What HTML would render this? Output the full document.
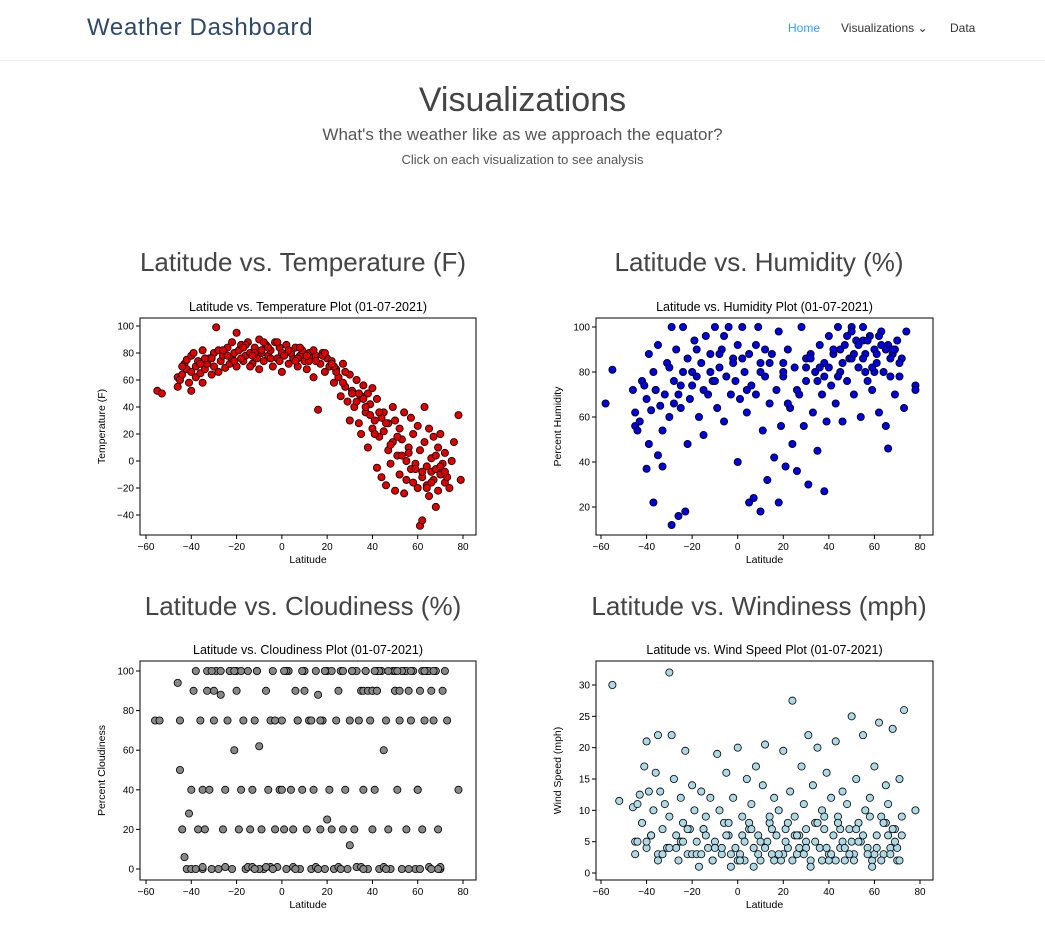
<!DOCTYPE html>
<html><head><meta charset="utf-8">
<style>
body{margin:0;width:1045px;height:927px;background:#fff;font-family:"Liberation Sans",sans-serif;overflow:hidden;position:relative}
.hdr{position:absolute;left:0;top:0;width:1045px;height:60px;border-bottom:1px solid #e8eef3}
.brand{position:absolute;left:87px;top:14px;font-size:24px;color:#2f4a68;letter-spacing:0.7px}
.nav{position:absolute;top:21px;font-size:12px;color:#333}
.h1{position:absolute;left:0;width:1045px;text-align:center;top:81px;font-size:34px;color:#444}
.sub{position:absolute;left:0;width:1045px;text-align:center;top:125px;font-size:17px;color:#555}
.sub2{position:absolute;left:0;width:1045px;text-align:center;top:152px;font-size:13px;color:#555}
.ct{position:absolute;font-size:26px;color:#444;text-align:center;width:460px}
svg{position:absolute;left:0;top:0}
</style></head><body>
<div class="hdr">
<div class="brand">Weather Dashboard</div>
<div class="nav" style="left:788px;color:#2ea3f2">Home</div>
<div class="nav" style="left:841px">Visualizations &#8964;</div>
<div class="nav" style="left:950px">Data</div>
</div>
<div class="h1">Visualizations</div>
<div class="sub">What's the weather like as we approach the equator?</div>
<div class="sub2">Click on each visualization to see analysis</div>
<div class="ct" style="left:73px;top:247px">Latitude vs. Temperature (F)</div>
<div class="ct" style="left:529px;top:247px">Latitude vs. Humidity (%)</div>
<div class="ct" style="left:73px;top:591px">Latitude vs. Cloudiness (%)</div>
<div class="ct" style="left:529px;top:591px">Latitude vs. Windiness (mph)</div>
<svg id="s" width="1045" height="927"></svg>
<script>
const xTicks=[-60,-40,-20,0,20,40,60,80];
const tempTicks=[100,80,60,40,20,0,-20,-40];
const humTicks=[100,80,60,40,20];
const cloudTicks=[100,80,60,40,20,0];
const windTicks=[30,25,20,15,10,5,0];
const tempLat=[-55,-53,-46,-46,-45,-44,-43,-42,-42,-41,-40,-40,-39,-38,-38,-37,-36,-35,-35,-34,-33,-32,-31,-30,-30,-29,-28,-27,-26,-25,-24,-23,-22,-22,-21,-20,-20,-19,-18,-17,-16,-15,-14,-13,-12,-11,-10,-10,-9,-8,-7,-6,-5,-4,-3,-2,-1,0,0,1,2,3,4,5,6,7,8,9,10,11,12,13,14,15,16,17,18,19,20,21,22,23,24,25,26,27,28,29,30,30,31,32,33,34,35,35,36,37,38,38,39,40,40,41,42,42,43,44,45,45,46,47,47,48,49,49,50,50,51,52,52,53,54,54,55,55,56,57,57,58,58,59,60,60,61,61,62,62,63,63,64,64,65,65,66,66,67,67,68,68,69,69,70,70,71,72,72,73,74,75,76,78,79,-28,-24,-16,-6,4,12,24,36,44,-34,-12,8,-2,18,
-36,-31,-26,-21,-17,-13,-9,-5,-1,3,7,11,15,19,23,27,31,33,37,39,41,43,46,48,51,53,56,59,62,64,66,68,70,72,-44,-40,-18,-14,-8,6,14,22,28,34];
const tempVal=[52,50,55,62,60,64,72,68,75,58,78,52,80,70,62,74,65,82,58,68,72,76,64,80,70,99,66,74,78,69,84,72,88,76,80,95,70,82,86,74,78,88,80,72,84,76,90,68,80,74,86,78,82,70,88,76,84,80,66,78,86,72,80,76,84,70,78,82,74,68,80,76,62,78,38,72,80,66,76,70,74,58,68,62,48,72,55,44,30,64,52,40,60,28,48,20,56,36,50,10,42,54,24,30,-5,46,18,-12,22,36,-18,8,28,-2,14,40,-22,30,4,-10,24,16,-24,36,0,-14,10,32,-6,20,-16,-2,26,-20,8,-48,-44,-12,14,40,-4,-18,24,-26,2,-8,-14,18,-34,-6,10,-22,-10,20,-2,-16,6,-12,-20,0,14,34,-14,82,78,86,84,80,74,66,46,32,76,80,84,88,78,
72,76,82,74,84,78,82,76,74,82,76,78,74,80,70,58,50,44,40,34,20,36,28,12,18,4,6,-6,-8,-20,-16,4,-4,-8,70,66,76,70,88,74,82,72,66,50];
const humLat=[-58,-55,-46,-45,-45,-44,-43,-42,-41,-40,-40,-39,-39,-38,-37,-37,-36,-35,-35,-34,-33,-33,-32,-31,-30,-29,-29,-28,-27,-26,-26,-25,-24,-24,-23,-22,-22,-21,-20,-19,-18,-17,-16,-15,-14,-13,-12,-11,-10,-9,-8,-7,-6,-5,-4,-3,-2,-1,0,0,1,2,3,4,5,5,6,7,8,9,10,10,11,12,13,14,15,16,17,18,18,19,20,21,22,23,24,25,26,27,28,29,30,31,32,33,34,35,36,37,38,38,39,40,41,42,43,44,45,46,47,48,49,50,51,52,53,54,55,56,57,58,59,60,61,62,63,64,65,66,66,67,68,69,70,71,72,73,74,78,78,40,45,50,55,60,65,35,30,20,10,-15,-8,
-30,-25,-18,-12,-6,-2,4,8,14,20,26,32,36,42,44,46,48,51,53,55,57,59,61,63,67,69,71,-36,-28,-20,-10,2,12,22,30,38,50,56,62,68];
const humVal=[66,81,72,62,56,54,58,76,74,37,68,48,88,63,22,80,72,43,92,65,38,54,70,84,60,100,12,76,90,16,70,64,100,80,18,48,86,68,74,94,78,60,84,52,96,70,88,76,100,64,82,90,58,78,100,70,86,76,40,92,68,100,80,62,22,88,74,24,70,100,18,84,54,78,32,66,88,42,72,22,98,56,78,38,90,64,48,82,36,70,100,56,76,30,88,62,80,45,92,70,27,84,58,96,74,88,66,100,80,58,92,76,86,100,70,94,82,60,100,88,76,96,72,90,84,62,98,80,56,92,46,78,88,70,94,78,86,64,98,74,72,82,90,86,94,80,90,76,86,84,80,72,88,
82,74,90,80,96,84,72,92,84,80,72,86,82,90,78,84,96,88,92,86,94,82,88,92,86,90,84,72,66,80,76,86,90,66,82,78,98,80,96,90];
const cloudLat=[-56,-54,-46,-45,-45,-44,-43,-42,-41,-40,-40,-39,-38,-37,-36,-35,-35,-34,-33,-32,-31,-30,-29,-28,-27,-26,-25,-24,-23,-22,-21,-20,-19,-18,-17,-16,-15,-14,-13,-12,-11,-10,-9,-8,-7,-6,-5,-4,-3,-2,-1,0,1,2,3,4,5,6,7,8,9,10,11,12,13,14,15,16,17,18,19,20,21,22,23,24,25,26,27,28,29,30,31,32,33,34,35,36,37,38,39,40,41,42,43,44,45,46,47,48,49,50,51,52,53,54,55,56,57,58,59,60,61,62,63,64,65,66,67,68,69,70,71,72,73,78,-30,-20,-10,0,10,20,30,40,50,60,70,-35,-25,-15,-5,5,15,25,35,45,55,65,-38,-18,2,22,42,62,
-33,-27,-23,-13,-7,-3,7,13,17,27,33,37,43,47,53,57,63,67,-31,-21,-11,1,9,19,31,41,51,61,69,-12,-4,6,16,26,36,46,56,66,36,38,40,42,50,52];
const cloudVal=[75,75,94,75,50,20,6,0,28,40,0,90,0,20,75,40,0,20,90,40,0,75,100,0,88,20,40,75,100,0,60,90,20,40,75,0,100,20,40,75,100,62,20,0,90,40,75,100,20,1,40,75,20,0,100,40,20,90,75,0,40,100,20,75,0,40,100,88,20,75,0,100,40,20,0,75,90,100,20,40,0,75,100,20,1,75,90,40,100,0,75,20,40,90,0,100,60,75,20,0,100,90,40,75,0,100,20,90,75,100,0,40,90,20,75,100,1,90,75,100,20,0,90,100,75,40,90,100,0,40,90,25,12,90,100,40,1,1,1,1,1,1,1,1,1,1,100,100,100,100,100,100,100,100,100,100,100,1,1,75,75,75,75,
100,100,100,100,100,100,100,100,100,100,100,100,100,100,100,100,100,100,0,0,0,0,0,0,0,0,0,0,0,90,90,90,90,90,90,90,90,90,75,75,75,75,75,75];
const windLat=[-55,-52,-46,-45,-45,-44,-43,-42,-41,-40,-40,-39,-38,-37,-36,-35,-35,-34,-33,-32,-31,-30,-29,-28,-27,-26,-25,-24,-23,-22,-21,-20,-19,-18,-17,-16,-15,-14,-13,-12,-11,-10,-9,-8,-7,-6,-5,-4,-3,-2,-1,0,1,2,3,4,5,6,7,8,9,10,11,12,13,14,15,16,17,18,19,20,21,22,23,24,25,26,27,28,29,30,31,32,33,34,35,36,37,38,39,40,41,42,43,44,45,46,47,48,49,50,51,52,53,54,55,56,57,58,59,60,61,62,63,64,65,66,67,68,69,70,71,72,73,78,-40,-30,-20,-10,0,10,20,30,40,50,60,70,-35,-25,-15,-5,5,15,25,35,45,55,65,-22,2,26,46,66,
-44,-38,-33,-27,-24,-18,-14,-11,-7,-3,1,3,7,9,12,16,18,21,24,27,29,32,34,37,39,41,43,47,49,51,53,57,59,61,63,67,69,71,-30,-16,-4,6,14,22,30,38,44,52,58,64,68,72];
const windVal=[30,11.5,10.5,5,3,11,12.5,8,17,4,21,13,6,10,16,22,3,13,7,11,4,9,22,15,6,2,12,8,19.5,3,7,14,10,5,1,13,7,9,4,12,2,5,19,10,3,8,16,6,1,12,4,20,3,9,2,15,7,11,4,17,6,2,14,20.5,5,8,3,12,6,10,2,19.5,7,4,13,27.5,9,3,6,17,11,5,22,2,14,8,20,4,10,7,16,3,12,6,21,9,4,13,2,11,7,25,3,15,8,5,22,10,4,12,2,17,6,24,9,3,14,11,4,23,7,2,15,6,26,10,5,32,3,4,2,5,3,4,2,5,3,4,2,5,7,6,8,7,6,8,7,6,8,7,6,6,5,6,5,6,
3,4,5,3,6,2,4,3,2,5,1,3,4,2,3,5,2,4,3,1,5,2,4,3,2,4,3,2,5,3,1,4,2,3,5,2,4,3,8,7,9,8,7,9,8,7,9,8,7,9,8,7];
const svg=document.getElementById('s');
const NS='http://www.w3.org/2000/svg';
function el(t,a,txt){const e=document.createElementNS(NS,t);for(const k in a)e.setAttribute(k,a[k]);if(txt!==undefined)e.textContent=txt;svg.appendChild(e);return e;}
function chart(c){
 const xs=v=>c.x0+(v-(-60))*(c.x80-c.x0)/140;
 const ys=v=>c.yA+(v-c.vA)*(c.yB-c.yA)/(c.vB-c.vA);
 const f=el('rect',{x:c.L,y:c.T,width:c.R-c.L,height:c.B-c.T,fill:'#fff',stroke:'#000','stroke-width':1});
 
 
 const t=el('text',{x:(c.L+c.R)/2,y:c.T-7,'text-anchor':'middle','font-size':12.5,fill:'#000'},c.title);
 
 
 xTicks.forEach(v=>{const x=xs(v);el('line',{x1:x,x2:x,y1:c.B,y2:c.B+4,stroke:'#000'});
  const l=el('text',{x:x,y:c.B+15,'text-anchor':'middle','font-size':10},String(v).replace('-','\u2212'));
  
  });
 c.yt.forEach(v=>{const y=ys(v);el('line',{x1:c.L-4,x2:c.L,y1:y,y2:y,stroke:'#000'});
  const l=el('text',{x:c.L-6,y:y+3.5,'text-anchor':'end','font-size':10},String(v).replace('-','\u2212'));
  
  });
 const xl=el('text',{x:(c.L+c.R)/2,y:c.B+28,'text-anchor':'middle','font-size':10.5},'Latitude');
 
 
 const cy=(c.T+c.B)/2;
 const yl=el('text',{x:c.L-35,y:cy,'text-anchor':'middle','font-size':10.5,transform:`rotate(-90 ${c.L-35} ${cy})`},c.ylab);
 
 
 c.lat.forEach((la,i)=>{const p=el('circle',{cx:xs(la),cy:ys(c.val[i]),r:3.6,fill:c.color,stroke:'#000','stroke-width':0.8});
  
  });
}
chart({name:'temperature',L:140,R:476,T:318,B:535,x0:146,x80:463,yA:326,vA:100,yB:515,vB:-40,yt:tempTicks,lat:tempLat,val:tempVal,color:'#e00000',title:'Latitude vs. Temperature Plot (01-07-2021)',ylab:'Temperature (F)'});
chart({name:'humidity',L:596,R:933,T:318,B:535,x0:601,x80:920,yA:327,vA:100,yB:507,vB:20,yt:humTicks,lat:humLat,val:humVal,color:'#0000e0',title:'Latitude vs. Humidity Plot (01-07-2021)',ylab:'Percent Humidity'});
chart({name:'cloudiness',L:140,R:476,T:661,B:880,x0:146,x80:463,yA:671,vA:100,yB:869,vB:0,yt:cloudTicks,lat:cloudLat,val:cloudVal,color:'#888888',title:'Latitude vs. Cloudiness Plot (01-07-2021)',ylab:'Percent Cloudiness'});
chart({name:'wind-speed',L:596,R:933,T:661,B:880,x0:601,x80:920,yA:685,vA:30,yB:873,vB:0,yt:windTicks,lat:windLat,val:windVal,color:'#add8e6',title:'Latitude vs. Wind Speed Plot (01-07-2021)',ylab:'Wind Speed (mph)'});
</script>
</body></html>
